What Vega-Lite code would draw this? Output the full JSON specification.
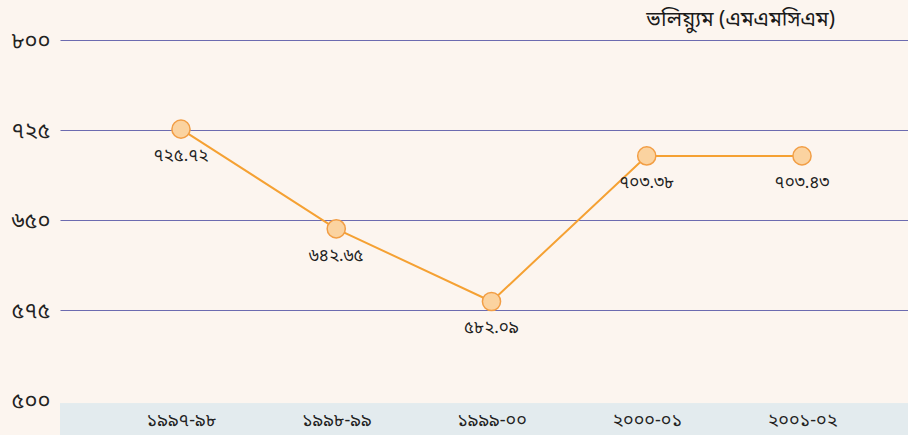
{
  "$schema": "https://vega.github.io/schema/vega-lite/v6.json",
  "width": 848,
  "height": 360,
  "autosize": {"type": "none"},
  "padding": {"left": 60, "top": 40, "right": 0, "bottom": 35},
  "background": "#fcf5ef",
  "config": {
    "view": {"stroke": null},
    "font": "Noto Sans Bengali, Noto Sans, sans-serif"
  },
  "title": {
    "text": "ভলিয়্যুম (এমএমসিএম)",
    "anchor": "end",
    "fontSize": 21,
    "fontWeight": "normal",
    "color": "#1a1a1a",
    "dx": -73,
    "offset": -1
  },
  "data": {
    "values": [
      {"year": "১৯৯৭-৯৮", "volume": 725.72, "label": "৭২৫.৭২"},
      {"year": "১৯৯৮-৯৯", "volume": 642.65, "label": "৬৪২.৬৫"},
      {"year": "১৯৯৯-০০", "volume": 582.09, "label": "৫৮২.০৯"},
      {"year": "২০০০-০১", "volume": 703.38, "label": "৭০৩.৩৮"},
      {"year": "২০০১-০২", "volume": 703.43, "label": "৭০৩.৪৩"}
    ]
  },
  "encoding": {
    "x": {
      "field": "year",
      "type": "nominal",
      "sort": null,
      "scale": {"type": "point", "padding": 0.731, "align": 0.533},
      "axis": {
        "title": null,
        "labelAngle": 0,
        "ticks": false,
        "domain": false,
        "grid": false,
        "zindex": 2,
        "labelFontSize": 18,
        "labelColor": "#222222",
        "labelPadding": 11
      }
    },
    "y": {
      "field": "volume",
      "type": "quantitative",
      "scale": {"domain": [500, 800], "nice": false, "zero": false},
      "axis": {
        "title": null,
        "values": [500, 575, 650, 725, 800],
        "ticks": false,
        "domain": false,
        "labelAlign": "left",
        "labelPadding": 49,
        "labelFontSize": 22,
        "labelColor": "#222222",
        "labelExpr": "datum.value == 500 ? '৫০০' : datum.value == 575 ? '৫৭৫' : datum.value == 650 ? '৬৫০' : datum.value == 725 ? '৭২৫' : '৮০০'",
        "gridColor": "#5c5ca8",
        "gridWidth": 1.2,
        "gridOpacity": {"condition": {"test": "datum.value == 500", "value": 0}, "value": 0.9}
      }
    }
  },
  "layer": [
    {
      "mark": {"type": "rect", "color": "#e3ebee"},
      "encoding": {
        "x": null,
        "y": {"datum": 497},
        "y2": {"datum": 470}
      }
    },
    {
      "mark": {"type": "line", "color": "#f5a133", "strokeWidth": 2}
    },
    {
      "mark": {"type": "point", "filled": true, "size": 330, "fill": "#fbd3a0", "stroke": "#f29e45", "strokeWidth": 1.5, "opacity": 1}
    },
    {
      "mark": {"type": "text", "dy": 27, "fontSize": 17, "color": "#222222"},
      "encoding": {"text": {"field": "label"}}
    }
  ]
}
